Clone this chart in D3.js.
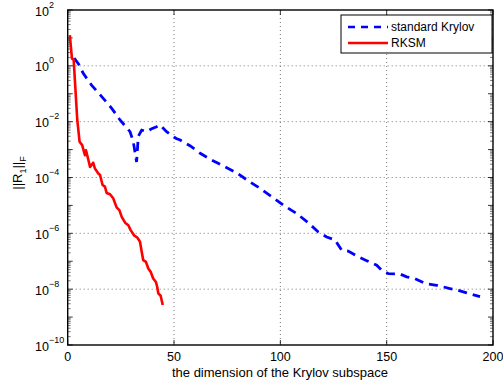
<!DOCTYPE html>
<html>
<head>
<meta charset="utf-8">
<script src="https://cdn.jsdelivr.net/npm/d3@7"></script>
<style>
  body { margin: 0; background: #fff; }
  svg { display: block; font-family: "Liberation Sans", Arial, sans-serif; }
</style>
</head>
<body>
<div id="chart"></div>
<script>
// RKSM residual norms (dimension, ||R1||_F)
var rksmDim = [1, 2, 2.8, 4.5, 5.6, 6.8, 8.1, 8.6, 9.5, 10.5, 12, 12.8, 14.4, 15.2, 16.4, 17.5, 18.3, 19.9, 21.4, 23, 24.3, 25.4, 27, 28.5, 29.6, 31.2, 32.7, 34, 34.8, 35.5, 36.8, 37.9, 39, 40.2, 41.5, 42.1, 42.6, 43.7, 44.7];
var rksmRes = [1.26e1, 1.8, 1.66, 1.15e-2, 1.9e-3, 1.45e-3, 6.3e-4, 9.5e-4, 5.0e-4, 2.4e-4, 3.4e-4, 2.1e-4, 1.4e-4, 1.23e-4, 5.4e-5, 4.7e-5, 2.8e-5, 2.5e-5, 1.8e-5, 8.5e-6, 6.8e-6, 3.9e-6, 2.4e-6, 1.95e-6, 1.3e-6, 8.5e-7, 7.1e-7, 5.0e-7, 2.2e-7, 1.1e-7, 9.5e-8, 5.5e-8, 4.2e-8, 2.4e-8, 1.8e-8, 1.2e-8, 7.1e-9, 5.8e-9, 2.7e-9];

// standard Krylov residual norms
var krylovDim = [3, 5, 7.3, 11.3, 16, 20.7, 24.6, 29.3, 30.8, 32.4, 33.2, 34.8, 37.1, 39.5, 41.8, 43.4, 46.5, 51, 52.9, 57.5, 62.5, 67.7, 73.1, 79.4, 84.9, 90.4, 96.4, 102.2, 107.7, 113.1, 117.8, 121.8, 125.7, 128.8, 131.9, 136.6, 140.6, 145.3, 147.6, 150.8, 156.2, 159.4, 163.3, 168, 173.5, 179.8, 183.7, 187.6, 193.9];
var krylovRes = [1.9, 1.2, 5.4e-1, 2.0e-1, 7.9e-2, 3.0e-2, 1.15e-2, 4.4e-3, 2.0e-3, 3.6e-4, 3.0e-3, 5.0e-3, 4.4e-3, 5.6e-3, 6.6e-3, 7.6e-3, 4.4e-3, 2.5e-3, 2.2e-3, 1.38e-3, 7.2e-4, 4.2e-4, 2.6e-4, 1.48e-4, 7.6e-5, 4.1e-5, 1.95e-5, 9.3e-6, 5.1e-6, 2.4e-6, 1.12e-6, 7.4e-7, 5.8e-7, 2.5e-7, 2.3e-7, 1.45e-7, 1.05e-7, 7.2e-8, 4.8e-8, 3.6e-8, 3.5e-8, 2.75e-8, 2.4e-8, 1.6e-8, 1.38e-8, 1.05e-8, 9.1e-9, 7.4e-9, 5.4e-9];

var xTicks = [0, 50, 100, 150, 200];
var yExponents = [2, 0, -2, -4, -6, -8, -10];

var W = 503, H = 387;
var plotL = 67.7, plotR = 493, plotT = 10, plotB = 345;

var svg = d3.select("#chart").append("svg")
  .attr("width", W).attr("height", H);

var x = d3.scaleLinear().domain([0, 200]).range([plotL, plotR]);
var y = d3.scaleLog().domain([1e-10, 1e2]).range([plotB, plotT]);

// grid lines (dotted)
var grid = svg.append("g");
grid.selectAll(".vg").data(xTicks.slice(1, -1)).enter().append("line")
  .attr("x1", function(d) { return x(d); }).attr("x2", function(d) { return x(d); })
  .attr("y1", plotT).attr("y2", plotB)
  .style("stroke", "#555").style("stroke-width", 0.8).style("stroke-dasharray", "1,3");
grid.selectAll(".hg").data(yExponents.slice(1, -1)).enter().append("line")
  .attr("y1", function(d) { return y(Math.pow(10, d)); }).attr("y2", function(d) { return y(Math.pow(10, d)); })
  .attr("x1", plotL).attr("x2", plotR)
  .style("stroke", "#555").style("stroke-width", 0.8).style("stroke-dasharray", "1,3");

// minor log ticks on both y sides
var minors = [];
for (var e = -10; e < 2; e++) {
  for (var m = 2; m < 10; m++) minors.push(m * Math.pow(10, e));
}
var ticks = svg.append("g");
ticks.selectAll(".ml").data(minors).enter().append("line")
  .attr("x1", plotL).attr("x2", plotL + 3)
  .attr("y1", function(d) { return y(d); }).attr("y2", function(d) { return y(d); })
  .style("stroke", "#222").style("stroke-width", 0.6);
ticks.selectAll(".mr").data(minors).enter().append("line")
  .attr("x1", plotR).attr("x2", plotR - 3)
  .attr("y1", function(d) { return y(d); }).attr("y2", function(d) { return y(d); })
  .style("stroke", "#222").style("stroke-width", 0.6);
// major ticks every decade
var majors = d3.range(-10, 3);
ticks.selectAll(".jl").data(majors).enter().append("line")
  .attr("x1", plotL).attr("x2", plotL + 5)
  .attr("y1", function(d) { return y(Math.pow(10, d)); }).attr("y2", function(d) { return y(Math.pow(10, d)); })
  .style("stroke", "#000").style("stroke-width", 0.8);
ticks.selectAll(".jr").data(majors).enter().append("line")
  .attr("x1", plotR).attr("x2", plotR - 5)
  .attr("y1", function(d) { return y(Math.pow(10, d)); }).attr("y2", function(d) { return y(Math.pow(10, d)); })
  .style("stroke", "#000").style("stroke-width", 0.8);
ticks.selectAll(".xb").data(xTicks).enter().append("line")
  .attr("x1", function(d) { return x(d); }).attr("x2", function(d) { return x(d); })
  .attr("y1", plotB).attr("y2", plotB - 5)
  .style("stroke", "#000").style("stroke-width", 0.8);
ticks.selectAll(".xt").data(xTicks).enter().append("line")
  .attr("x1", function(d) { return x(d); }).attr("x2", function(d) { return x(d); })
  .attr("y1", plotT).attr("y2", plotT + 5)
  .style("stroke", "#000").style("stroke-width", 0.8);

// lines
var line = d3.line()
  .x(function(d) { return x(d[0]); })
  .y(function(d) { return y(d[1]); });

svg.append("path")
  .datum(d3.zip(krylovDim, krylovRes))
  .attr("d", line)
  .style("fill", "none").style("stroke", "#0000ff").style("stroke-width", 2.8)
  .style("stroke-dasharray", "9,6");

svg.append("path")
  .datum(d3.zip(rksmDim, rksmRes))
  .attr("d", line)
  .style("fill", "none").style("stroke", "#ff0000").style("stroke-width", 2.6)
  .style("stroke-linejoin", "round");

// frame
svg.append("rect")
  .attr("x", plotL).attr("y", plotT)
  .attr("width", plotR - plotL).attr("height", plotB - plotT)
  .style("fill", "none").style("stroke", "#000").style("stroke-width", 1.4);

// x tick labels
svg.selectAll(".xl").data(xTicks).enter().append("text")
  .attr("x", function(d) { return x(d); }).attr("y", 361)
  .attr("text-anchor", "middle")
  .style("font-size", "12.5px")
  .text(function(d) { return d; });

// y tick labels
var yl = svg.selectAll(".yl").data(yExponents).enter().append("text")
  .attr("x", 35)
  .attr("y", function(d) { return y(Math.pow(10, d)) + 5.5; })
  .style("font-size", "12.5px");
yl.append("tspan").text("10");
yl.append("tspan").attr("dy", -8).style("font-size", "9px")
  .text(function(d) { return d < 0 ? "\u2212" + (-d) : d; });

// axis labels
svg.append("text")
  .attr("x", 280).attr("y", 377)
  .attr("text-anchor", "middle")
  .style("font-size", "13px")
  .text("the dimension of the Krylov subspace");

var yLab = svg.append("text")
  .attr("transform", "translate(22,173) rotate(-90)")
  .attr("text-anchor", "middle")
  .style("font-size", "13px");
yLab.append("tspan").text("||R");
yLab.append("tspan").attr("dy", 4).style("font-size", "9px").text("1");
yLab.append("tspan").attr("dy", -4).text("||");
yLab.append("tspan").attr("dy", 4).style("font-size", "9px").text("F");

// legend
var leg = svg.append("g");
leg.append("rect")
  .attr("x", 341).attr("y", 15).attr("width", 151).attr("height", 38)
  .style("fill", "#fff").style("stroke", "#000").style("stroke-width", 1);
var legItems = [
  { name: "standard Krylov", color: "#0000ff", dash: "7,6" },
  { name: "RKSM", color: "#ff0000", dash: null }
];
leg.selectAll(".li").data(legItems).enter().append("line")
  .attr("x1", 348).attr("x2", 388)
  .attr("y1", function(d, i) { return 27 + i * 16; })
  .attr("y2", function(d, i) { return 27 + i * 16; })
  .style("stroke", function(d) { return d.color; })
  .style("stroke-width", 2.6)
  .style("stroke-dasharray", function(d) { return d.dash; });
leg.selectAll(".lt").data(legItems).enter().append("text")
  .attr("x", 391).attr("y", function(d, i) { return 31 + i * 16; })
  .style("font-size", "12px")
  .text(function(d) { return d.name; });
</script>
</body>
</html>
